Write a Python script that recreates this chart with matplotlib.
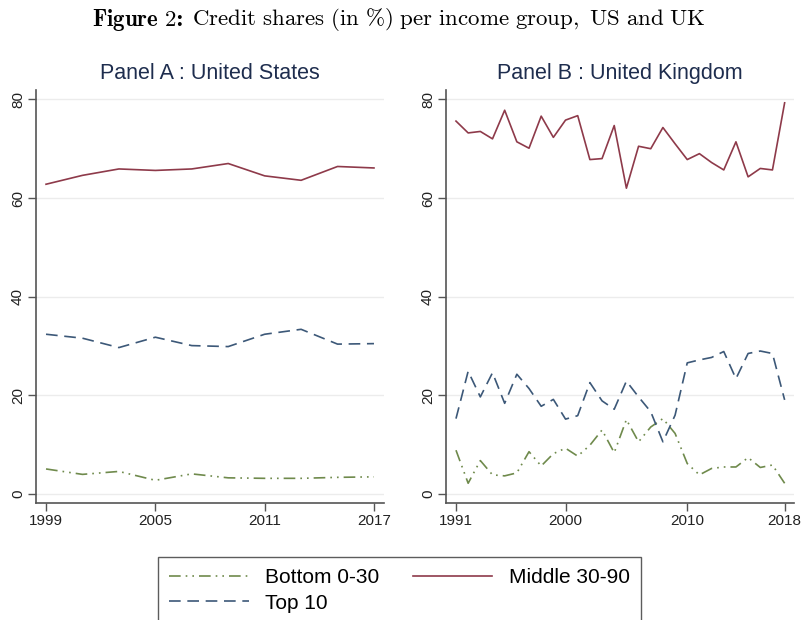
import numpy as np
import matplotlib
matplotlib.use('Agg')
import matplotlib.pyplot as plt

plt.rcParams['font.family'] = 'Liberation Sans'
plt.rcParams['mathtext.fontset'] = 'cm'

# US survey years and shares (%)
us_years = [1999, 2001, 2003, 2005, 2007, 2009, 2011, 2013, 2015, 2017]
us_bottom = [5.1, 4.0, 4.6, 2.8, 4.1, 3.3, 3.2, 3.2, 3.4, 3.5]
us_middle = [62.8, 64.6, 65.9, 65.6, 65.9, 67.0, 64.5, 63.6, 66.4, 66.1]
us_top = [32.4, 31.6, 29.7, 31.8, 30.1, 29.9, 32.4, 33.4, 30.4, 30.5]

# UK yearly shares (%)
uk_years = list(range(1991, 2019))
uk_bottom = [8.9, 2.2, 6.8, 3.9, 3.7, 4.3, 8.6, 5.7, 8.2, 9.3, 7.7, 9.9, 13.0, 8.4,
             15.1, 10.6, 13.6, 15.3, 12.3, 6.2, 3.9, 5.2, 5.5, 5.5, 7.4, 5.4, 5.9, 2.2]
uk_middle = [75.6, 73.2, 73.5, 72.0, 77.8, 71.4, 70.1, 76.6, 72.3, 75.8, 76.7, 67.8, 68.0, 74.7,
             62.0, 70.5, 70.0, 74.3, 71.0, 67.8, 69.0, 67.2, 65.7, 71.4, 64.3, 66.0, 65.7, 79.3]
uk_top = [15.3, 24.9, 19.7, 24.6, 18.4, 24.3, 21.4, 17.8, 19.2, 15.2, 15.9, 22.6, 18.9, 17.2,
          22.9, 19.7, 16.7, 10.6, 16.0, 26.6, 27.2, 27.7, 28.9, 23.4, 28.5, 29.0, 28.5, 19.1]

us_xticks = [1999, 2005, 2011, 2017]
uk_xticks = [1991, 2000, 2010, 2018]
yticks = [0, 20, 40, 60, 80]

c_bottom = '#6f8a4c'
c_middle = '#8e3a4a'
c_top = '#3c5878'
title_col = '#1e2d4e'

fig = plt.figure(figsize=(8.02, 6.2), dpi=100)

# figure caption: bold label followed by plain text, both Computer Modern
t1 = fig.text(92/802, 0.968, r'$\mathbf{Figure\ 2\colon}$', ha='left', va='center',
              fontsize=16.5)
t1.set_fontfamily('cmb10')
t2 = fig.text(0, 0, r'$\mathrm{Credit\ shares\ (in\ \%)\ per\ income\ group,\ US\ and\ UK}$',
              fontsize=16.5, va='center')
fig.canvas.draw()
bb = t1.get_window_extent()
t2.set_position(((bb.x1 + 9) / fig.bbox.width, 0.968))

axA = fig.add_axes([36/802, 117/620, 348/802, 413/620])
axB = fig.add_axes([446/802, 117/620, 348/802, 413/620])

def panel(ax, x, b, m, t, title, xticks, xlim):
    lb, = ax.plot(x, b, color=c_bottom, lw=1.2, dashes=(7, 3, 1, 3, 1, 3))
    lm, = ax.plot(x, m, color=c_middle, lw=1.2)
    lt, = ax.plot(x, t, color=c_top, lw=1.2, dashes=(7, 4))
    ax.set_xlim(xlim)
    ax.set_ylim(-1.8, 81.9)
    ax.set_xticks(xticks)
    ax.set_yticks(yticks)
    ax.grid(axis='y', color='#ececec', lw=1)
    ax.set_axisbelow(True)
    for s in ['top', 'right']:
        ax.spines[s].set_visible(False)
    for s in ['left', 'bottom']:
        ax.spines[s].set_color('#555555')
        ax.spines[s].set_linewidth(1.2)
    ax.tick_params(direction='out', length=6, width=1, color='#555555',
                   labelsize=11, labelcolor='#222222', pad=2)
    for lab in ax.get_yticklabels():
        lab.set_rotation(90)
        lab.set_va('center')
    ax.set_title(title, fontsize=15.5, color=title_col, pad=8)
    return lb, lm, lt

lb, lm, lt = panel(axA, us_years, us_bottom, us_middle, us_top,
                   'Panel A : United States', us_xticks, (1998.45, 2017.55))
panel(axB, uk_years, uk_bottom, uk_middle, uk_top,
      'Panel B : United Kingdom', uk_xticks, (1990.18, 2018.77))

leg = fig.legend([lb, lt, lm], ['Bottom 0-30', 'Top 10', 'Middle 30-90'],
                 ncol=2, loc='upper left', bbox_to_anchor=(158/802, 1 - 557/620),
                 fontsize=15, frameon=True, fancybox=False, handlelength=3.8,
                 columnspacing=1.6, borderpad=0.55, labelspacing=0.3,
                 handletextpad=0.8, borderaxespad=0)
leg.get_frame().set_edgecolor('#333333')
leg.get_frame().set_linewidth(1.0)

fig.savefig('out.png', dpi=100)
